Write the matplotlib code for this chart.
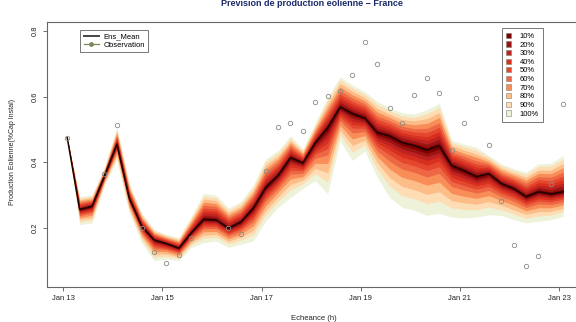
import numpy as np
import pandas as pd
import matplotlib
matplotlib.use('Agg')
import matplotlib.pyplot as plt
import matplotlib.dates as mdates
from matplotlib.patches import Patch
from matplotlib.lines import Line2D

plt.rcParams['font.family'] = ['Liberation Sans', 'DejaVu Sans']

# time steps (6 hourly)
times = pd.date_range('2015-01-13 02:00', periods=41, freq='6h')

ens_mean = [0.475, 0.256, 0.266, 0.358, 0.455, 0.290, 0.205, 0.163, 0.152, 0.138,
            0.185, 0.226, 0.224, 0.199, 0.218, 0.260, 0.323, 0.360, 0.414, 0.398,
            0.460, 0.505, 0.568, 0.548, 0.534, 0.490, 0.480, 0.460, 0.450, 0.437,
            0.450, 0.390, 0.374, 0.356, 0.365, 0.335, 0.320, 0.295, 0.310, 0.303, 0.310]

nan = np.nan
obs = [0.475, nan, nan, 0.365, 0.513, nan, 0.198, 0.125, 0.092, 0.116,
       0.168, nan, nan, 0.198, 0.182, nan, 0.372, 0.508, 0.520, 0.495,
       0.584, 0.602, 0.617, 0.667, 0.767, 0.698, 0.565, 0.520, 0.604, 0.658,
       0.611, 0.437, 0.518, 0.596, 0.453, 0.283, 0.147, 0.083, 0.114, 0.334, 0.576]

# upper bounds of the central intervals
hi_10 = [.475,.259,.268,.360,.459,.293,.208,.165,.154,.140,.189,.232,.229,.203,.222,.265,.329,.365,.419,.401,.464,.512,.574,.554,.540,.497,.486,.466,.457,.446,.459,.395,.380,.362,.369,.339,.324,.300,.316,.310,.318]
hi_20 = [.475,.262,.271,.362,.463,.297,.211,.168,.156,.143,.193,.238,.235,.208,.227,.271,.336,.371,.424,.404,.469,.519,.582,.561,.546,.504,.493,.474,.465,.455,.470,.402,.386,.369,.373,.344,.329,.306,.323,.317,.327]
hi_30 = [.475,.265,.274,.364,.467,.301,.215,.171,.159,.146,.197,.245,.242,.214,.233,.277,.344,.378,.430,.408,.474,.527,.590,.569,.553,.513,.500,.482,.473,.467,.481,.409,.393,.377,.378,.349,.334,.313,.330,.326,.336]
hi_40 = [.475,.269,.277,.367,.472,.305,.218,.174,.161,.149,.202,.252,.249,.219,.238,.283,.352,.385,.436,.412,.480,.536,.598,.577,.561,.521,.508,.490,.482,.478,.493,.416,.401,.385,.383,.355,.340,.320,.338,.334,.346]
hi_50 = [.475,.273,.281,.370,.477,.309,.222,.177,.164,.152,.207,.260,.257,.225,.245,.290,.360,.392,.442,.416,.486,.545,.608,.585,.569,.531,.517,.499,.492,.490,.506,.424,.409,.394,.389,.361,.346,.327,.347,.343,.357]
hi_60 = [.475,.277,.284,.373,.482,.314,.227,.180,.167,.155,.212,.269,.265,.232,.251,.298,.370,.401,.450,.421,.492,.555,.618,.595,.578,.541,.526,.509,.502,.503,.520,.432,.418,.404,.395,.367,.352,.336,.356,.354,.369]
hi_70 = [.475,.282,.288,.376,.488,.320,.231,.184,.170,.159,.218,.278,.274,.239,.259,.306,.380,.410,.458,.426,.500,.566,.629,.605,.587,.553,.536,.519,.514,.518,.536,.441,.427,.415,.401,.375,.360,.345,.366,.365,.383]
hi_80 = [.475,.286,.293,.379,.494,.325,.236,.188,.174,.163,.224,.288,.283,.247,.266,.315,.391,.419,.465,.431,.507,.578,.640,.616,.597,.564,.546,.530,.526,.533,.551,.451,.437,.425,.408,.382,.367,.354,.376,.376,.396]
hi_90 = [.475,.291,.297,.382,.500,.331,.241,.192,.177,.167,.230,.297,.292,.254,.274,.323,.401,.428,.473,.436,.514,.589,.651,.626,.607,.576,.557,.541,.537,.548,.567,.460,.447,.436,.415,.389,.374,.363,.387,.388,.409]
hi_100 = [.475,.295,.300,.385,.505,.335,.245,.195,.180,.170,.235,.305,.300,.260,.280,.330,.410,.435,.480,.440,.520,.598,.660,.635,.615,.585,.565,.550,.547,.560,.580,.468,.455,.445,.420,.395,.380,.370,.395,.397,.420]

# lower bounds
lo_10 = [.475,.254,.263,.357,.453,.288,.203,.160,.150,.136,.183,.222,.221,.196,.215,.255,.318,.355,.408,.394,.454,.495,.563,.541,.529,.483,.471,.450,.440,.427,.440,.382,.367,.350,.359,.330,.315,.291,.306,.299,.306]
lo_20 = [.475,.251,.261,.355,.450,.286,.200,.157,.147,.134,.181,.219,.218,.193,.211,.250,.313,.350,.402,.390,.448,.485,.558,.534,.524,.476,.461,.440,.430,.417,.429,.374,.360,.344,.353,.325,.311,.287,.301,.295,.303]
lo_30 = [.475,.249,.258,.354,.447,.283,.197,.153,.144,.132,.178,.215,.214,.190,.207,.244,.307,.344,.395,.386,.441,.473,.552,.525,.518,.468,.450,.428,.418,.405,.417,.365,.351,.336,.345,.319,.305,.282,.296,.291,.298]
lo_40 = [.475,.245,.254,.352,.444,.280,.194,.149,.141,.129,.175,.210,.209,.185,.202,.237,.299,.338,.386,.380,.433,.459,.544,.515,.511,.459,.437,.415,.405,.391,.403,.354,.341,.328,.336,.313,.298,.277,.289,.285,.293]
lo_50 = [.475,.242,.250,.349,.440,.276,.190,.143,.137,.126,.171,.204,.204,.181,.197,.229,.291,.330,.376,.374,.424,.442,.536,.504,.503,.448,.422,.399,.389,.375,.386,.341,.329,.318,.326,.305,.291,.270,.282,.279,.287]
lo_60 = [.475,.237,.245,.347,.435,.272,.185,.137,.133,.122,.167,.197,.198,.175,.190,.219,.281,.320,.364,.366,.412,.422,.526,.489,.493,.434,.403,.379,.369,.355,.366,.326,.315,.306,.314,.295,.281,.262,.273,.271,.279]
lo_70 = [.475,.231,.238,.343,.428,.266,.178,.129,.127,.117,.161,.188,.189,.167,.181,.206,.267,.308,.349,.356,.397,.396,.512,.471,.481,.417,.379,.354,.344,.330,.339,.305,.296,.290,.298,.283,.269,.252,.261,.261,.270]
lo_80 = [.475,.225,.231,.339,.421,.259,.171,.120,.120,.112,.154,.178,.180,.159,.172,.192,.253,.294,.332,.345,.381,.368,.498,.451,.467,.398,.353,.326,.316,.302,.310,.283,.276,.272,.280,.269,.255,.241,.249,.250,.259]
lo_90 = [.475,.218,.224,.335,.414,.253,.164,.111,.113,.107,.148,.168,.172,.151,.162,.178,.239,.280,.315,.334,.365,.339,.484,.431,.453,.378,.327,.298,.288,.274,.281,.261,.256,.255,.263,.255,.242,.229,.236,.239,.249]
lo_100 = [.475,.210,.215,.330,.405,.245,.155,.100,.105,.100,.140,.155,.160,.140,.150,.160,.220,.263,.293,.320,.344,.303,.465,.405,.435,.354,.293,.263,.253,.238,.244,.233,.230,.233,.240,.238,.225,.215,.220,.225,.235]

levels = ['10%', '20%', '30%', '40%', '50%', '60%', '70%', '80%', '90%', '100%']
colors = ['#7F0000', '#9B1414', '#BE2322', '#D7301F', '#E4472E',
          '#EE6744', '#F88D58', '#FDBD88', '#FEDDB4', '#EEF2D8']

uppers = [hi_10, hi_20, hi_30, hi_40, hi_50, hi_60, hi_70, hi_80, hi_90, hi_100]
lowers = [lo_10, lo_20, lo_30, lo_40, lo_50, lo_60, lo_70, lo_80, lo_90, lo_100]

fig = plt.figure(figsize=(5.76, 3.22), dpi=100)
ax = fig.add_axes([0.0816, 0.109, 0.925, 0.823])

# widest interval first, narrower ones on top
for k in range(len(levels) - 1, -1, -1):
    ax.fill_between(times, lowers[k], uppers[k], color=colors[k], lw=0, zorder=1)

ax.plot(times, ens_mean, color='#1a0404', lw=1.1, zorder=3)
ax.plot(times, obs, 'o', ms=3.2, mfc='none', mec='#8c8c84', mew=0.6, zorder=4)

ax.set_xlim(pd.Timestamp('2015-01-12 16:13'), pd.Timestamp('2015-01-23 10:00'))
ax.set_ylim(0.02, 0.8275)

xt = pd.date_range('2015-01-13', '2015-01-23', freq='2D')
ax.set_xticks(xt)
ax.xaxis.set_major_formatter(mdates.DateFormatter('%b %d'))
ax.set_yticks([0.2, 0.4, 0.6, 0.8])
ax.set_yticklabels(['0.2', '0.4', '0.6', '0.8'], rotation=90, va='center')
ax.tick_params(labelsize=5.5, length=3, width=0.6, color='#555555',
               labelcolor='#222222', pad=3)

for s in ax.spines.values():
    s.set_color('#666666')
    s.set_linewidth(0.8)

ax.set_xlabel('Echeance (h)', fontsize=5.5, color='#222222', labelpad=9)
fig.text(0.022, 0.528, 'Production Eolienne(%Cap Instal)', rotation=90,
         ha='center', va='center', fontsize=5, color='#222222')
fig.text(0.542, 0.988, 'Prevision de production eolienne \u2212 France',
         ha='center', va='center', fontsize=6.5, fontweight='bold', color='#1B2A6B')

h1 = [Line2D([], [], color='#444444', lw=1.4),
      Line2D([], [], color='#7A8A5A', lw=0.9, marker='o', ms=2.5,
             mfc='#7A8A5A', mec='#7A8A5A')]
leg1 = ax.legend(h1, ['Ens_Mean', 'Observation'], loc='upper left',
                 bbox_to_anchor=(0.055, 0.985), fontsize=5.5, frameon=True,
                 fancybox=False, edgecolor='#555555', handlelength=2.0,
                 labelspacing=0.15, borderpad=0.45, handletextpad=0.6)
leg1.get_frame().set_linewidth(0.7)
ax.add_artist(leg1)

h2 = [Patch(facecolor=c, edgecolor='#8a8070', lw=0.4) for c in colors]
leg2 = ax.legend(h2, levels, loc='upper right', bbox_to_anchor=(0.938, 0.99),
                 fontsize=5.5, frameon=True, fancybox=False, edgecolor='#555555',
                 handlelength=0.7, handleheight=0.7, labelspacing=0.17,
                 borderpad=0.55, handletextpad=1.1)
leg2.get_frame().set_linewidth(0.7)

fig.savefig('out.png', dpi=100)
